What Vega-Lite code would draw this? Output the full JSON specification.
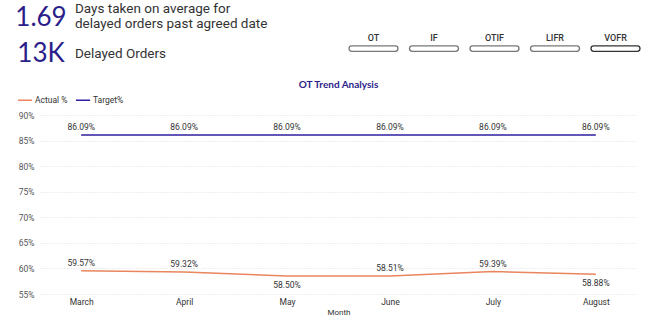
{
  "$schema": "https://vega.github.io/schema/vega-lite/v6.json",
  "background": "white",
  "padding": {"left": 15, "top": 0, "right": 4, "bottom": 4},
  "spacing": 8,
  "config": {"view": {"stroke": null}, "font": "Roboto"},
  "vconcat": [
    {
      "bounds": "flush",
      "spacing": 10,
      "hconcat": [
        {
          "width": 48,
          "height": 72,
          "data": {"values": [{"kpi": "1.69"}, {"kpi": "13K"}]},
          "mark": {"type": "text", "font": "Lato", "fontSize": 26, "color": "#2B1E8A", "align": "center", "baseline": "middle"},
          "encoding": {
            "y": {"field": "kpi", "type": "nominal", "sort": null, "axis": null},
            "text": {"field": "kpi"}
          }
        },
        {
          "width": 264,
          "height": 72,
          "data": {
            "values": [
              {"kpi": "1.69", "line": "Days taken on average for"},
              {"kpi": "1.69", "line": "delayed orders past agreed date"},
              {"kpi": "13K", "line": "Delayed Orders"}
            ]
          },
          "mark": {"type": "text", "align": "left", "baseline": "middle", "fontSize": 13.5, "color": "#333333", "dy": -5},
          "encoding": {
            "x": {"datum": 0, "type": "quantitative", "scale": {"domain": [0, 1]}, "axis": null},
            "y": {"field": "line", "type": "nominal", "axis": null, "scale": {"type": "point", "padding": 0.9, "domain": ["Days taken on average for", "delayed orders past agreed date", " ", "Delayed Orders"]}},
            "text": {"field": "line"}
          }
        },
        {
          "width": 291,
          "height": 72,
          "data": {"values": [{"button": "OT"}, {"button": "IF"}, {"button": "OTIF"}, {"button": "LIFR"}, {"button": "VOFR"}]},
          "encoding": {
            "x": {"field": "button", "type": "nominal", "sort": null, "axis": null, "scale": {"paddingInner": 0.19, "paddingOuter": 0}}
          },
          "layer": [
            {
              "mark": {"type": "rect", "cornerRadius": 4, "fill": "white", "strokeWidth": 1.3},
              "encoding": {
                "y": {"datum": 51, "type": "quantitative", "scale": {"domain": [0, 72], "reverse": true}, "axis": null},
                "y2": {"datum": 57},
                "stroke": {"condition": {"test": "datum.button === 'VOFR'", "value": "#333333"}, "value": "#777777"}
              }
            },
            {
              "mark": {"type": "text", "fontSize": 9, "fontWeight": 500, "color": "#333333", "baseline": "middle"},
              "encoding": {
                "y": {"datum": 42, "type": "quantitative"},
                "text": {"field": "button"}
              }
            }
          ]
        }
      ]
    },
    {
      "spacing": 0,
      "hconcat": [
        {
          "width": 1,
          "height": 179,
          "data": {"values": [{}]},
          "mark": {"type": "text"},
          "encoding": {"text": {"value": ""}}
        },
        {
          "width": 597,
          "height": 179,
          "title": {"text": "OT Trend Analysis", "font": "Lato", "fontSize": 10, "fontWeight": "bold", "color": "#2B1E8A", "anchor": "middle", "offset": 21},
          "data": {
            "values": [
              {"month": "March", "series": "Actual %", "value": 0.5957},
              {"month": "April", "series": "Actual %", "value": 0.5932},
              {"month": "May", "series": "Actual %", "value": 0.5850},
              {"month": "June", "series": "Actual %", "value": 0.5851},
              {"month": "July", "series": "Actual %", "value": 0.5939},
              {"month": "August", "series": "Actual %", "value": 0.5888},
              {"month": "March", "series": "Target%", "value": 0.8609},
              {"month": "April", "series": "Target%", "value": 0.8609},
              {"month": "May", "series": "Target%", "value": 0.8609},
              {"month": "June", "series": "Target%", "value": 0.8609},
              {"month": "July", "series": "Target%", "value": 0.8609},
              {"month": "August", "series": "Target%", "value": 0.8609}
            ]
          },
          "transform": [
            {"window": [{"op": "lag", "field": "value", "as": "prev"}, {"op": "lead", "field": "value", "as": "next"}], "groupby": ["series"]}
          ],
          "encoding": {
            "x": {
              "field": "month", "type": "ordinal", "sort": null,
              "scale": {"type": "point", "padding": 0.4},
              "axis": {"title": "Month", "titleFontSize": 8, "titleFontWeight": "normal", "titleColor": "#333333", "titlePadding": 3, "labelAngle": 0, "labelFontSize": 8.5, "labelColor": "#333333", "labelPadding": 3, "domain": false, "ticks": false, "grid": false}
            },
            "y": {
              "field": "value", "type": "quantitative",
              "scale": {"domain": [0.55, 0.9], "nice": false, "zero": false},
              "axis": {"title": null, "values": [0.55, 0.6, 0.65, 0.7, 0.75, 0.8, 0.85, 0.9], "format": ".0%", "grid": true, "gridDash": [1, 2], "gridColor": "#dddddd", "domain": false, "ticks": false, "labelFontSize": 8.5, "labelColor": "#555555", "labelPadding": 6}
            },
            "color": {
              "field": "series", "type": "nominal",
              "scale": {"domain": ["Actual %", "Target%"], "range": ["#E9855F", "#2E1F9E"]},
              "legend": {"title": null, "orient": "none", "legendX": 0, "legendY": 92, "direction": "horizontal", "symbolType": "stroke", "symbolStrokeWidth": 1.5, "symbolSize": 200, "labelFontSize": 8.5, "labelColor": "#333333", "columnPadding": 4, "labelOffset": 2}
            }
          },
          "layer": [
            {"mark": {"type": "line", "strokeWidth": 1.5}},
            {
              "transform": [{"filter": "!(datum.series === 'Actual %' && (datum.prev == null || datum.value < datum.prev) && (datum.next == null || datum.value < datum.next))"}],
              "mark": {"type": "text", "dy": -8, "fontSize": 8.5},
              "encoding": {"text": {"field": "value", "format": ".2%"}, "color": {"value": "#333333"}}
            },
            {
              "transform": [{"filter": "datum.series === 'Actual %' && (datum.prev == null || datum.value < datum.prev) && (datum.next == null || datum.value < datum.next)"}],
              "mark": {"type": "text", "dy": 9, "fontSize": 8.5},
              "encoding": {"text": {"field": "value", "format": ".2%"}, "color": {"value": "#333333"}}
            }
          ]
        }
      ]
    }
  ]
}
